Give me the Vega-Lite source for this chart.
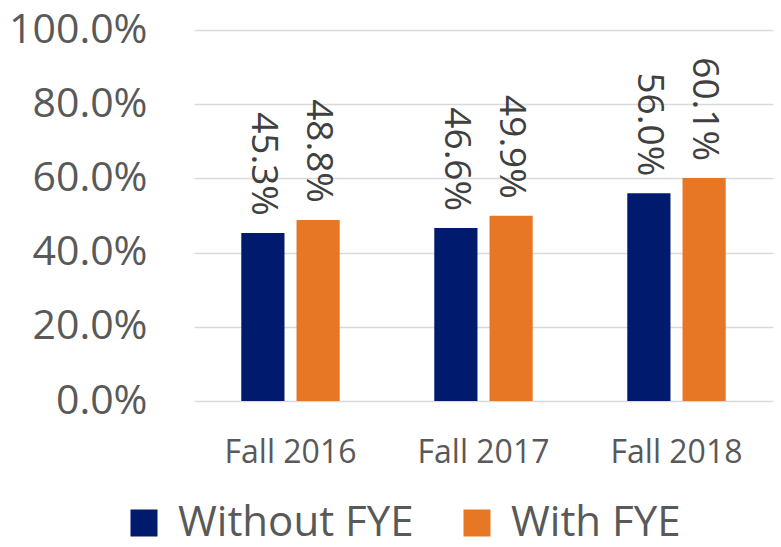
{
  "$schema": "https://vega.github.io/schema/vega-lite/v6.json",
  "width": 579,
  "height": 371,
  "autosize": {"type": "none"},
  "padding": {"left": 194, "top": 30, "right": 8, "bottom": 146},
  "background": "white",
  "config": {"view": {"stroke": null}, "font": "Open Sans"},
  "data": {
    "values": [
      {"term": "Fall 2016", "group": "Without FYE", "value": 0.453},
      {"term": "Fall 2016", "group": "With FYE", "value": 0.488},
      {"term": "Fall 2017", "group": "Without FYE", "value": 0.466},
      {"term": "Fall 2017", "group": "With FYE", "value": 0.499},
      {"term": "Fall 2018", "group": "Without FYE", "value": 0.560},
      {"term": "Fall 2018", "group": "With FYE", "value": 0.601}
    ]
  },
  "encoding": {
    "x": {
      "field": "term", "type": "nominal",
      "sort": ["Fall 2016", "Fall 2017", "Fall 2018"],
      "scale": {"paddingInner": 0.49, "paddingOuter": 0.245},
      "axis": {"title": null, "labelAngle": 0, "ticks": false, "tickSize": 0, "domain": false,
               "labelFontSize": 32, "labelColor": "#595959", "labelBaseline": "alphabetic", "labelPadding": 61}
    },
    "xOffset": {"field": "group", "type": "nominal", "sort": ["Without FYE", "With FYE"], "scale": {"paddingInner": 0.218}},
    "y": {
      "field": "value", "type": "quantitative",
      "scale": {"domain": [0, 1]},
      "axis": {"title": null, "values": [0, 0.2, 0.4, 0.6, 0.8, 1], "format": ".1%", "ticks": false, "tickSize": 0,
               "domain": false, "labelFontSize": 41, "labelColor": "#595959", "labelPadding": 47,
               "gridColor": "#d9d9d9", "gridWidth": 1.5}
    }
  },
  "layer": [
    {
      "mark": {"type": "bar"},
      "encoding": {
        "color": {
          "field": "group", "type": "nominal",
          "scale": {"domain": ["Without FYE", "With FYE"], "range": ["#001a6e", "#e77724"]},
          "legend": {"title": null, "orient": "none", "legendX": -71, "legendY": 472, "direction": "horizontal",
                     "symbolType": "square", "symbolSize": 729, "symbolStrokeWidth": 0, "labelFontSize": 42,
                     "labelColor": "#595959", "labelOffset": 13, "labelLimit": 0, "columnPadding": 42, "padding": 0}
        }
      }
    },
    {
      "mark": {"type": "text", "angle": 90, "align": "right", "baseline": "middle", "dx": -17, "fontSize": 37, "color": "#404040"},
      "encoding": {"text": {"field": "value", "type": "quantitative", "format": ".1%"}}
    }
  ]
}
